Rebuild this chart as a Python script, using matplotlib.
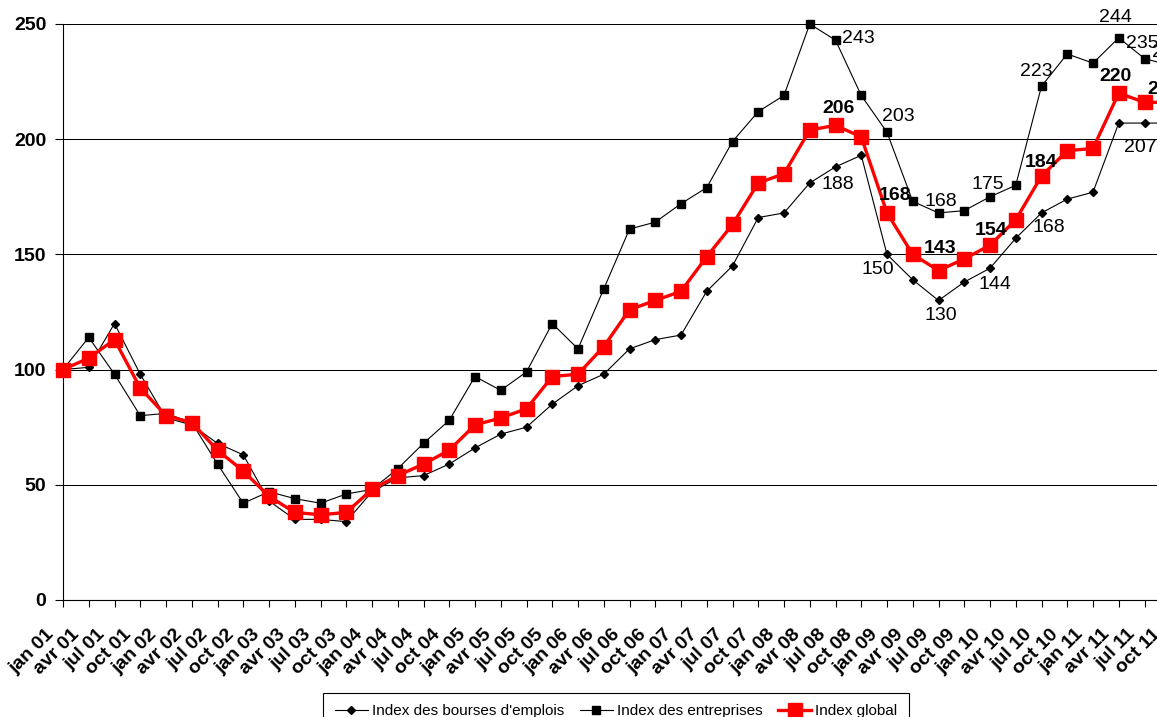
import numpy as np
import matplotlib
matplotlib.use("Agg")
import matplotlib.pyplot as plt
import matplotlib.transforms as mtransforms

plt.rcParams['font.family'] = ['Liberation Sans', 'DejaVu Sans']

months = ["jan", "avr", "jul", "oct"]
years = ["01", "02", "03", "04", "05", "06", "07", "08", "09", "10", "11"]
quarters = [f"{m} {y}" for y in years for m in months]

bourses = [100, 101, 120, 98, 79, 76, 68, 63, 43, 35, 35, 34, 47,
           53, 54, 59, 66, 72, 75, 85, 93, 98, 109, 113, 115,
           134, 145, 166, 168, 181, 188, 193,
           150, 139, 130, 138, 144, 157, 168, 174, 177, 207, 207, 207]
entreprises = [100, 114, 98, 80, 81, 77, 59, 42, 47, 44, 42, 46, 48,
               57, 68, 78, 97, 91, 99, 120, 109,
               135, 161, 164, 172, 179, 199, 212, 219,
               250, 243, 219, 203, 173, 168, 169, 175, 180, 223, 237, 233, 244, 235, 232]
global_idx = [100, 105, 113, 92, 80, 77, 65, 56, 45, 38, 37, 38, 48,
              54, 59, 65, 76, 79, 83, 97, 98,
              110, 126, 130, 134, 149, 163, 181, 185,
              204, 206, 201, 168, 150, 143, 148, 154, 165, 184, 195, 196, 220, 216, 216]

series_names = ["Index des bourses d'emplois", "Index des entreprises", "Index global"]

# labelled points: index -> label offset in pixels (dx, dy up)
bourses_lbl = {30: (2, -15), 32: (-9, -13), 34: (2, -13), 36: (5, -14), 38: (7, -12), 42: (-4, -22)}
entreprises_lbl = {30: (23, 4), 32: (11, 18), 34: (2, 14), 36: (-2, 15), 38: (-5, 17),
                   41: (-3, 23), 42: (-2, 18), 43: (-2, 15)}
global_lbl = {30: (3, 19), 32: (8, 20), 34: (2, 25), 36: (1, 17), 38: (0, 16), 41: (-3, 19), 43: (-7, 15)}

W, H = 1157, 717
fig = plt.figure(figsize=(W / 100, H / 100), dpi=100)
ax = fig.add_axes([63 / W, (H - 600) / H, 43 * 25.75 / W, 576 / H])

x = np.arange(len(quarters))
ax.plot(x, bourses, color='black', lw=0.8, marker='D', ms=4.5, clip_on=False,
        label=series_names[0], zorder=3)
ax.plot(x, entreprises, color='black', lw=0.8, marker='s', ms=6.3, clip_on=False,
        label=series_names[1], zorder=3)
ax.plot(x, global_idx, color='red', lw=2.4, marker='s', ms=9.5, clip_on=False,
        label=series_names[2], zorder=4)

ax.set_xlim(0, 43)
ax.set_ylim(0, 250)
ax.set_yticks([0, 50, 100, 150, 200, 250])
ax.yaxis.grid(True, color='black', lw=0.75)
ax.set_axisbelow(True)
for s in ['top', 'right']:
    ax.spines[s].set_visible(False)
for s in ['left', 'bottom']:
    ax.spines[s].set_linewidth(0.8)

ax.tick_params(axis='y', direction='out', length=6, width=0.8, pad=6, labelsize=14)
for t in ax.get_yticklabels():
    t.set_fontweight('bold')
ax.tick_params(axis='x', direction='out', length=5, width=0.8, pad=18)
ax.set_xticks(x, quarters, rotation=45, ha='right', va='center',
              rotation_mode='anchor', fontsize=14, fontweight='bold')
shift = mtransforms.ScaledTranslation(-12 / 100, 0, fig.dpi_scale_trans)
for lbl in ax.get_xticklabels():
    lbl.set_transform(lbl.get_transform() + shift)


def put_labels(vals, offsets, bold=False):
    for i, (dx, dy) in offsets.items():
        ax.annotate(f"{vals[i]}", (i, vals[i]), xytext=(dx * 0.72, (dy - 7) * 0.72),
                    textcoords='offset points', ha='center', va='baseline',
                    fontsize=14, fontweight='bold' if bold else 'normal',
                    annotation_clip=False, zorder=5)


put_labels(bourses, bourses_lbl)
put_labels(entreprises, entreprises_lbl)
put_labels(global_idx, global_lbl, bold=True)

leg = fig.legend(loc='upper center', bbox_to_anchor=(616 / W, (H - 693) / H), ncol=3,
                 frameon=True, fancybox=False, edgecolor='black', fontsize=11,
                 handlelength=2.2, handletextpad=0.25, columnspacing=1.0,
                 borderpad=0.75, borderaxespad=0)
leg.get_frame().set_linewidth(0.8)
leg.get_frame().set_alpha(1)

fig.savefig("out.png", dpi=100)
